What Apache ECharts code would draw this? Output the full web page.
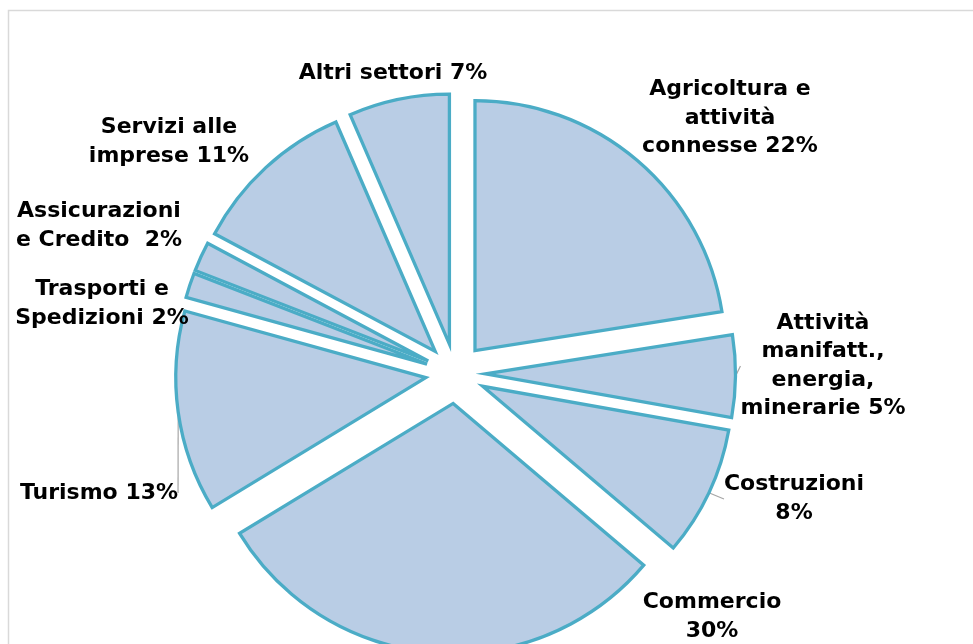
<!DOCTYPE html>
<html>
<head>
<meta charset="utf-8">
<script src="https://cdn.jsdelivr.net/npm/echarts@6/dist/echarts.min.js"></script>
<style>
html,body{margin:0;padding:0;background:#fff;}
#chart{width:973px;height:644px;}
</style>
</head>
<body>
<div id="chart"></div>
<script>
// Data (clockwise from 12 o'clock)
const categories = [
  'Agricoltura e attività connesse',
  'Attività manifatt., energia, minerarie',
  'Costruzioni',
  'Commercio',
  'Turismo',
  'Trasporti e Spedizioni',
  'Assicurazioni e Credito',
  'Servizi alle imprese',
  'Altri settori'
];
const values = [22.5, 5.3, 8.4, 30.1, 13.0, 1.6, 1.9, 10.7, 6.5];
const labelTexts = [
  'Agricoltura e\nattività\nconnesse 22%',
  'Attività\nmanifatt.,\nenergia,\nminerarie 5%',
  'Costruzioni\n8%',
  'Commercio\n30%',
  'Turismo 13%',
  'Trasporti e\nSpedizioni 2%',
  'Assicurazioni\ne Credito  2%',
  'Servizi alle\nimprese 11%',
  'Altri settori 7%'
];
const withLeader = [false, true, true, false, true, false, false, false, false];

// label anchor positions (layout only)
const labelPos = [
  [730, 118], [823, 366], [794, 499], [712, 617], [99, 493],
  [102, 304], [99, 226], [169, 142], [393, 73]
];

const chart = echarts.init(document.getElementById('chart'), null, {renderer: 'canvas'});

const CENTER = [455.5, 373.5];
const R = 250;
const OFFSET = 30;

const itemStyle = {color: '#B9CDE5', borderColor: '#4BACC6', borderWidth: 3.3, borderJoin: 'miter'};

const sliceData = categories.map((c, i) => ({name: c, value: values[i], selected: true}));
const labelData = categories.map((c, i) => ({
  name: c,
  value: values[i],
  labelLine: {show: withLeader[i]}
}));

chart.setOption({
  animation: false,
  backgroundColor: '#fff',
  graphic: [{
    type: 'rect',
    shape: {x: 8.5, y: 10.5, width: 1200, height: 1200},
    style: {fill: 'none', stroke: '#D9D9D9', lineWidth: 1.5},
    silent: true
  }],
  series: [{
    type: 'pie',
    center: CENTER,
    radius: R,
    startAngle: 90,
    clockwise: true,
    selectedMode: 'multiple',
    selectedOffset: OFFSET,
    avoidLabelOverlap: false,
    itemStyle: itemStyle,
    select: {itemStyle: itemStyle},
    emphasis: {disabled: true},
    label: {show: false},
    labelLine: {show: false},
    data: sliceData
  }, {
    type: 'pie',
    center: CENTER,
    radius: R + OFFSET,
    startAngle: 90,
    clockwise: true,
    silent: true,
    selectedMode: false,
    avoidLabelOverlap: false,
    itemStyle: {color: 'rgba(0,0,0,0)', borderWidth: 0},
    emphasis: {disabled: true},
    label: {
      show: true,
      position: 'outside',
      formatter: p => labelTexts[p.dataIndex],
      fontFamily: 'DejaVu Sans',
      fontWeight: 'bold',
      fontSize: 22,
      lineHeight: 28.5,
      color: '#000',
      align: 'center'
    },
    labelLine: {show: false, length: 5, length2: 0, lineStyle: {color: '#A6A6A6', width: 1.2}},
    labelLayout: function (params) {
      const p = labelPos[params.dataIndex];
      return {x: p[0], y: p[1], align: 'center', verticalAlign: 'middle'};
    },
    data: labelData
  }]
});
</script>
</body>
</html>
